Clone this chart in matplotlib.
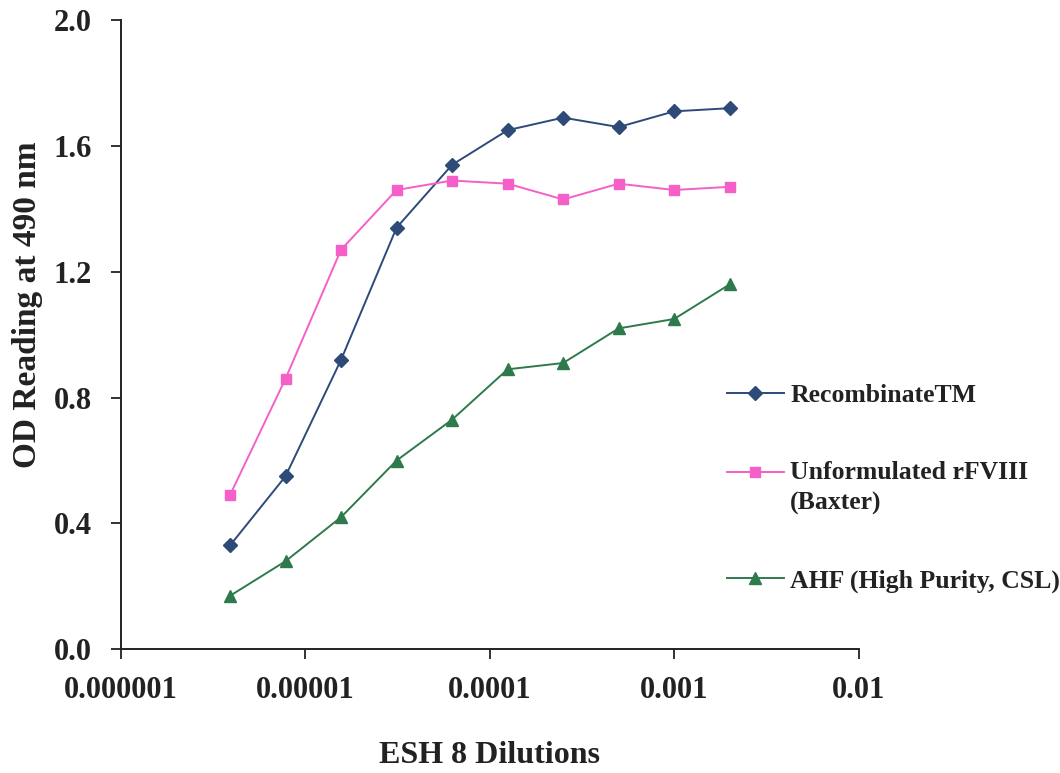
import numpy as np
import matplotlib
matplotlib.use('Agg')
import matplotlib.pyplot as plt
from matplotlib.legend_handler import HandlerLine2D
from matplotlib.transforms import Affine2D

plt.rcParams['font.family'] = ['Liberation Serif', 'DejaVu Serif']
plt.rcParams['font.weight'] = 'bold'

# dilutions 1:256000 ... 1:500
dilutions = [1 / 256000, 1 / 128000, 1 / 64000, 1 / 32000, 1 / 16000,
             1 / 8000, 1 / 4000, 1 / 2000, 1 / 1000, 1 / 500]

recombinate = [0.33, 0.55, 0.92, 1.34, 1.54, 1.65, 1.69, 1.66, 1.71, 1.72]
unformulated = [0.49, 0.86, 1.27, 1.46, 1.49, 1.48, 1.43, 1.48, 1.46, 1.47]
ahf = [0.17, 0.28, 0.42, 0.60, 0.73, 0.89, 0.91, 1.02, 1.05, 1.16]

labels = ['RecombinateTM', 'Unformulated rFVIII\n(Baxter)', 'AHF (High Purity, CSL)']
x_ticks = [1e-6, 1e-5, 1e-4, 1e-3, 1e-2]
x_ticklabels = ['0.000001', '0.00001', '0.0001', '0.001', '0.01']
y_ticks = [0.0, 0.4, 0.8, 1.2, 1.6, 2.0]


class HandlerFirstLine(HandlerLine2D):
    # put the handle next to the first line of a two-line label
    def create_artists(self, legend, orig_handle, xdescent, ydescent,
                       width, height, fontsize, trans):
        shifted = Affine2D().translate(0, 0.62 * fontsize) + trans
        return super().create_artists(legend, orig_handle, xdescent, ydescent,
                                      width, height, fontsize, shifted)


fig = plt.figure(figsize=(10.6, 7.73), dpi=100)
ax = fig.add_axes([0.114, 0.160, 0.696, 0.814])

l1, = ax.plot(dilutions, recombinate, color='#2d4a78', lw=1.4, marker='D', ms=7.5, label=labels[0])
l2, = ax.plot(dilutions, unformulated, color='#f55fc8', lw=1.4, marker='s', ms=7.5, label=labels[1])
l3, = ax.plot(dilutions, ahf, color='#2e7a4c', lw=1.4, marker='^', ms=9, label=labels[2])

ax.set_xscale('log')
ax.set_xlim(1e-6, 1e-2)
ax.set_ylim(0, 2.0)
ax.set_xticks(x_ticks)
ax.set_xticklabels(x_ticklabels)
ax.minorticks_off()
ax.set_yticks(y_ticks)
ax.set_yticklabels(['%.1f' % v for v in y_ticks])

for s in ['top', 'right']:
    ax.spines[s].set_visible(False)
for s in ['left', 'bottom']:
    ax.spines[s].set_linewidth(1.4)
    ax.spines[s].set_color('#222222')

ax.tick_params(axis='both', direction='out', length=7, width=1.3, labelsize=22, colors='#222222')
ax.tick_params(axis='x', pad=12)
ax.tick_params(axis='y', pad=14)

ax.set_xlabel('ESH 8 Dilutions', fontsize=23, fontweight='bold', labelpad=26, color='#222222')
ax.set_ylabel('OD Reading at 490 nm', fontsize=24, fontweight='bold', color='#222222')
ax.yaxis.set_label_coords(-0.106, 0.547)

leg = fig.legend(handles=[l1, l2, l3], loc='upper left', bbox_to_anchor=(0.686, 0.503),
                 frameon=False, fontsize=18.5, handlelength=2.2, handletextpad=0.25,
                 labelspacing=2.1, borderpad=0, borderaxespad=0, labelcolor='#222222',
                 handler_map={l2: HandlerFirstLine()})
leg.get_texts()[1].set_linespacing(1.42)

fig.savefig('out.png', dpi=100)
